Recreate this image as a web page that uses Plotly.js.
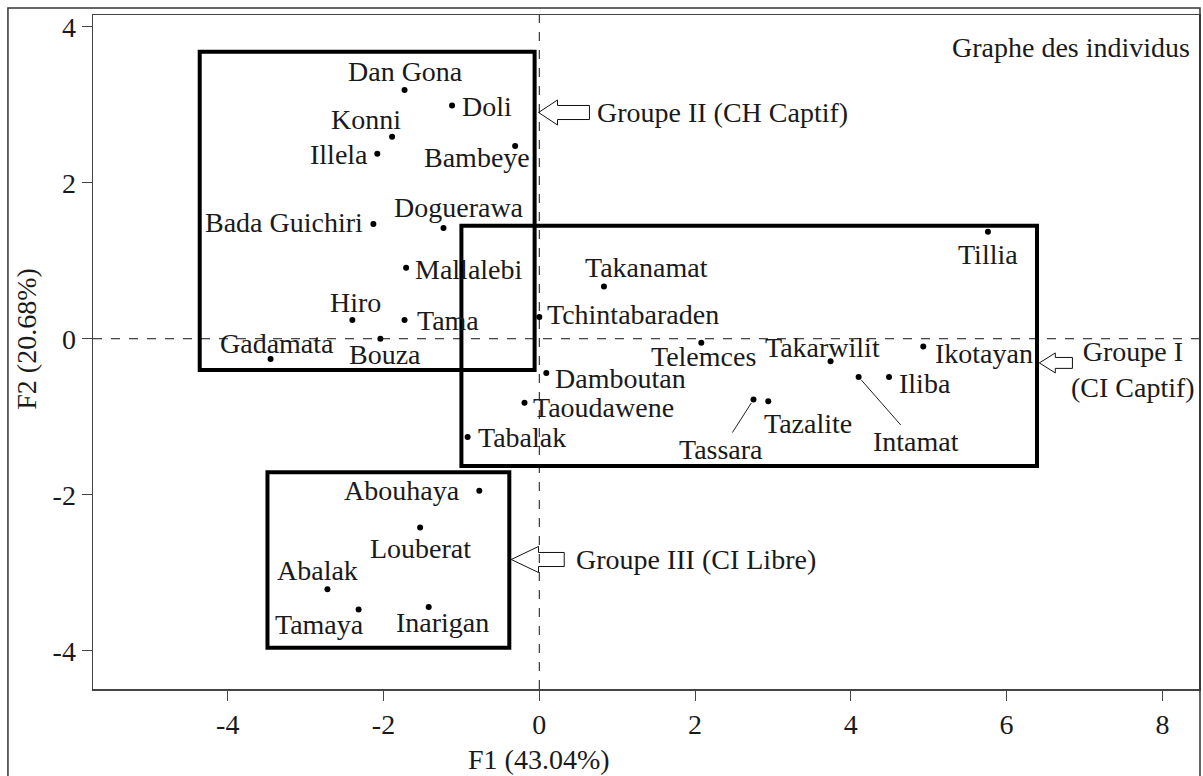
<!DOCTYPE html>
<html>
<head>
<meta charset="utf-8">
<script src="https://cdn.plot.ly/plotly-3.0.1.min.js"></script>
<style>
  html, body { margin: 0; padding: 0; background: #fff; }
  #graph { width: 1203px; height: 776px; }
</style>
</head>
<body>
<div id="graph"></div>
<script>
// individus (F1, F2)
var names = ['Dan Gona', 'Doli', 'Konni', 'Illela', 'Bambeye', 'Bada Guichiri', 'Doguerawa',
	'Mallalebi', 'Tama', 'Hiro', 'Bouza', 'Gadamata',
	'Takanamat', 'Tchintabaraden', 'Telemces', 'Takarwilit', 'Ikotayan', 'Iliba', 'Intamat',
	'Tillia', 'Damboutan', 'Taoudawene', 'Tabalak', 'Tassara', 'Tazalite',
	'Abouhaya', 'Louberat', 'Abalak', 'Tamaya', 'Inarigan'];
var f1 = [-1.73, -1.12, -1.89, -2.08, -0.31, -2.13, -1.23,
	-1.71, -1.73, -2.40, -2.04, -3.45,
	0.83, 0.00, 2.08, 3.74, 4.93, 4.49, 4.10,
	5.76, 0.09, -0.19, -0.92, 2.75, 2.94,
	-0.77, -1.53, -2.72, -2.32, -1.42];
var f2 = [3.19, 2.99, 2.59, 2.37, 2.47, 1.47, 1.42,
	0.91, 0.24, 0.24, 0.00, -0.26,
	0.67, 0.28, -0.05, -0.29, -0.10, -0.49, -0.49,
	1.37, -0.44, -0.82, -1.26, -0.78, -0.80,
	-1.95, -2.42, -3.21, -3.47, -3.44];

// groupes : cadres et fleches
var groupNames = ['Groupe II (CH Captif)', 'Groupe I<br>(CI Captif)', 'Groupe III (CI Libre)'];
var boxX0 = [-4.36, -1.00, -3.49];
var boxX1 = [-0.06, 6.39, -0.385];
var boxY0 = [-0.40, -1.63, -3.96];
var boxY1 = [3.68, 1.45, -1.71];

var xTicks = [-4, -2, 0, 2, 4, 6, 8];
var yTicks = [-4, -2, 0, 2, 4];

var serif = 'Liberation Serif, Times New Roman, serif';
var ink = '#1a1a1a';
var labelSize = 28;

// label placement [xanchor, xshift, yshift] (pixels)
var place = {
	'Dan Gona': ['center', 1, 18],
	'Doli': ['left', 8, -1],
	'Konni': ['right', 11, 17],
	'Illela': ['right', -7, -1],
	'Bambeye': ['right', 17, -11],
	'Bada Guichiri': ['right', -8, 2],
	'Doguerawa': ['right', 83, 20],
	'Mallalebi': ['left', 7, -2],
	'Tama': ['left', 10, 0],
	'Hiro': ['center', 3, 18],
	'Bouza': ['center', 5, -16],
	'Gadamata': ['center', 6, 16],
	'Takanamat': ['left', -21, 19],
	'Tchintabaraden': ['left', 6, 2],
	'Telemces': ['center', 2, -14],
	'Takarwilit': ['center', -8, 14],
	'Ikotayan': ['left', 10, -7],
	'Iliba': ['left', 8, -7],
	'Tillia': ['center', 0, -23],
	'Damboutan': ['left', 7, -5],
	'Taoudawene': ['left', 6, -5],
	'Tabalak': ['left', 8, 0],
	'Tazalite': ['left', -6, -22],
	'Abouhaya': ['right', -17, 0],
	'Louberat': ['center', 0, -21],
	'Abalak': ['center', -10, 19],
	'Tamaya': ['right', 7, -15],
	'Inarigan': ['center', 14, -15]
};
// labels tied to their point by a thin line [ax, ay]
var leader = {
	'Intamat': [57, 65],
	'Tassara': [-32, 50]
};

function main(){
	var dots = {
		x: f1,
		y: f2,
		text: names,
		type: 'scatter',
		mode: 'markers',
		marker: {color: '#000', size: 6},
		hoverinfo: 'text',
		showlegend: false
	};

	var annotations = [];
	for (var i = 0; i < names.length; i++) {
		var n = names[i];
		if (leader[n]) {
			annotations.push({
				x: f1[i], y: f2[i], xref: 'x', yref: 'y',
				text: n, showarrow: true, arrowhead: 0, arrowwidth: 1, arrowcolor: '#222',
				ax: leader[n][0], ay: leader[n][1], standoff: 4,
				font: {family: serif, size: labelSize, color: ink}
			});
		} else {
			var p = place[n];
			annotations.push({
				x: f1[i], y: f2[i], xref: 'x', yref: 'y',
				text: n, showarrow: false,
				xanchor: p[0], yanchor: 'middle', xshift: p[1], yshift: p[2],
				font: {family: serif, size: labelSize, color: ink}
			});
		}
	}

	// group captions
	annotations.push(groupText(groupNames[0], 0.72, 2.90, 'left'));
	annotations.push(groupText(groupNames[1], 7.62, -0.40, 'center'));
	annotations.push(groupText(groupNames[2], 0.44, -2.83, 'left'));

	annotations.push({
		xref: 'paper', yref: 'paper', x: 0.9937, y: 0.9525,
		xanchor: 'right', yanchor: 'middle', showarrow: false,
		text: 'Graphe des individus',
		font: {family: serif, size: labelSize, color: ink}
	});
	// axis titles sit on the origin, not the middle of the plot
	annotations.push({
		xref: 'x', yref: 'paper', x: 0, y: -0.105,
		xanchor: 'center', yanchor: 'middle', showarrow: false,
		text: 'F1 (43.04%)',
		font: {family: serif, size: labelSize, color: ink}
	});
	annotations.push({
		xref: 'paper', yref: 'y', x: -0.0597, y: 0,
		xanchor: 'center', yanchor: 'middle', showarrow: false, textangle: -90,
		text: 'F2 (20.68%)',
		font: {family: serif, size: labelSize, color: ink}
	});

	var shapes = [];
	// outer frame of the figure
	shapes.push({type: 'rect', xref: 'paper', yref: 'paper', x0: -0.0769, x1: 1.0009, y0: -0.2, y1: 1.0104,
		line: {color: '#333', width: 1.5}});
	// dashed axes through the origin
	shapes.push({type: 'line', xref: 'x', yref: 'paper', x0: 0, x1: 0, y0: 0, y1: 1,
		line: {color: '#111', width: 1, dash: 'dash'}});
	shapes.push({type: 'line', xref: 'paper', yref: 'y', x0: 0, x1: 1, y0: 0, y1: 0,
		line: {color: '#111', width: 1, dash: 'dash'}});
	for (var g = 0; g < boxX0.length; g++) {
		shapes.push({type: 'rect', xref: 'x', yref: 'y',
			x0: boxX0[g], x1: boxX1[g], y0: boxY0[g], y1: boxY1[g],
			line: {color: '#000', width: 4}});
	}
	shapes.push(hollowArrow(-0.01, 2.90, 0.244, 0.16, 0.41, 0.09));
	shapes.push(hollowArrow(6.42, -0.31, 0.205, 0.128, 0.22, 0.07));
	shapes.push(hollowArrow(-0.36, -2.83, 0.35, 0.167, 0.33, 0.09));

	var layout = {
		width: 1203,
		height: 776,
		margin: {l: 93, r: 4, t: 15, b: 87},
		paper_bgcolor: '#fff',
		plot_bgcolor: '#fff',
		font: {family: serif, color: ink},
		xaxis: {
			range: [-5.73, 8.47],
			tickvals: xTicks,
			ticktext: xTicks.map(String),
			ticks: 'outside', ticklen: 10, tickcolor: '#444', tickwidth: 1,
			showline: true, linecolor: '#444', linewidth: 1.5, mirror: true,
			showgrid: false, zeroline: false,
			tickfont: {family: serif, size: labelSize, color: ink}
		},
		yaxis: {
			range: [-4.49, 4.15],
			tickvals: yTicks,
			ticktext: yTicks.map(String),
			ticks: 'outside', ticklen: 10, tickcolor: '#444', tickwidth: 1,
			showline: true, linecolor: '#444', linewidth: 1.5, mirror: true,
			showgrid: false, zeroline: false,
			tickfont: {family: serif, size: labelSize, color: ink}
		},
		shapes: shapes,
		annotations: annotations,
		showlegend: false
	};

	Plotly.newPlot('graph', [dots], layout, {displayModeBar: false, staticPlot: true});
}

function groupText(text, x, y, anchor){
	return {
		x: x, y: y, xref: 'x', yref: 'y',
		text: text, showarrow: false,
		xanchor: anchor, yanchor: 'middle', align: 'center',
		font: {family: serif, size: labelSize, color: ink}
	};
}

// left-pointing outlined block arrow, tip at (tx, ty)
function hollowArrow(tx, ty, headLen, headHalf, shaftLen, shaftHalf){
	var hx = tx + headLen, ex = hx + shaftLen;
	var path = 'M ' + tx + ',' + ty +
		' L ' + hx + ',' + (ty + headHalf) +
		' L ' + hx + ',' + (ty + shaftHalf) +
		' L ' + ex + ',' + (ty + shaftHalf) +
		' L ' + ex + ',' + (ty - shaftHalf) +
		' L ' + hx + ',' + (ty - shaftHalf) +
		' L ' + hx + ',' + (ty - headHalf) + ' Z';
	return {type: 'path', xref: 'x', yref: 'y', path: path,
		line: {color: '#111', width: 1}, fillcolor: 'rgba(0,0,0,0)'};
}

main();
</script>
</body>
</html>
